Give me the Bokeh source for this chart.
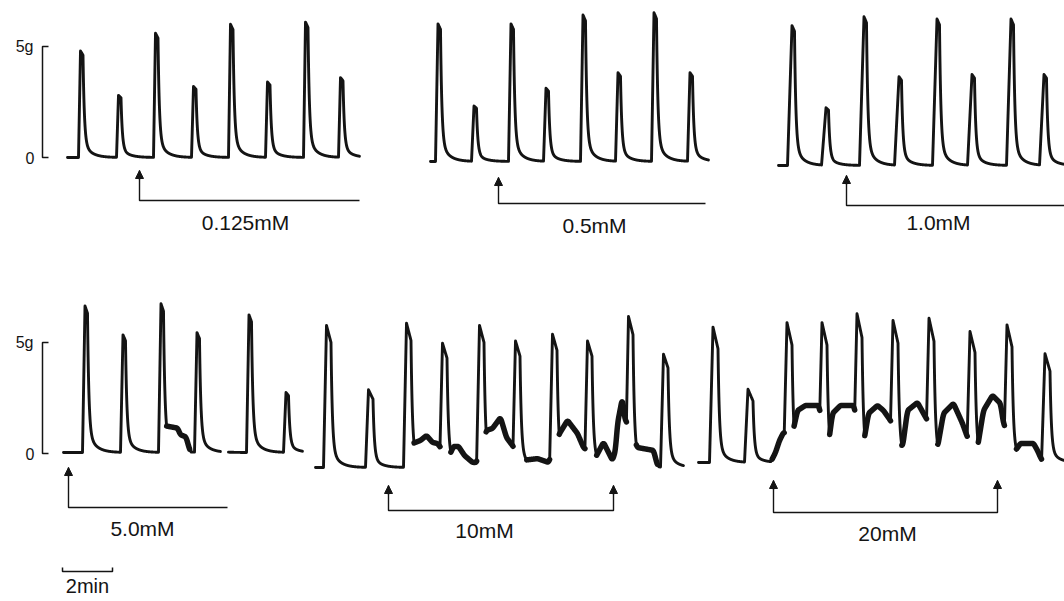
import numpy as np
from bokeh.plotting import figure
from bokeh.models import Range1d, Arrow, NormalHead
from bokeh.core.properties import value
from bokeh.embed import file_html
from bokeh.resources import INLINE

# ------------------------------------------------------------------
# DATA  (time in minutes, tension in grams)
# ------------------------------------------------------------------
# 0.125 mM
a_span = [2.36, 14.04]
a_onsets = [2.80, 4.32, 5.80, 7.32, 8.80, 10.28, 11.80, 13.20]
a_peaks = [4.8, 2.8, 5.6, 3.2, 6.0, 3.4, 6.1, 3.6]

# 0.5 mM
b_span = [16.88, 28.0]
b_onsets = [17.08, 18.52, 20.00, 21.40, 22.88, 24.28, 25.72, 27.16]
b_peaks = [6.2, 2.5, 6.2, 3.3, 6.6, 4.0, 6.7, 4.0]

# 1.0 mM
c_span = [30.8, 42.6]
c_onsets = [31.16, 32.52, 34.04, 35.44, 36.96, 38.36, 39.92, 41.24]
c_peaks = [6.3, 2.6, 6.7, 4.0, 6.6, 4.1, 6.6, 4.1]

# 5.0 mM (two recording segments)
d_span = [2.2, 8.48, 8.8, 11.76]
d_onsets = [2.96, 4.48, 6.00, 7.44, 9.52, 11.00]
d_peaks = [6.6, 5.3, 6.7, 5.4, 6.2, 2.7]
d_tone_t = [6.20, 6.28, 6.76, 6.88, 7.10, 7.24, 7.30]
d_tone_g = [0.0, 1.2, 1.1, 0.8, 0.7, 0.15, 0.0]

# 10 mM
e_span = [12.28, 27.0]
e_onsets = [12.60, 14.28, 15.80, 17.24, 18.72, 20.16, 21.64, 23.04, 24.68, 26.08]
e_peaks = [6.4, 3.5, 6.5, 5.6, 6.4, 5.7, 6.0, 5.7, 6.8, 5.1]
e_tone_t = [16.00, 16.16, 16.48, 16.72, 16.96, 17.16,
            17.60, 17.80, 18.00, 18.24, 18.56, 18.72,
            19.12, 19.36, 19.68, 19.92, 20.16,
            20.56, 21.16, 21.60,
            22.04, 22.36, 22.76, 23.00,
            23.48, 23.80, 24.16, 24.28, 24.36, 24.56, 24.64,
            25.16, 25.80, 25.96, 26.05]
e_tone_g = [0.0, 1.08, 1.22, 1.44, 1.13, 1.08,
            0.45, 0.95, 0.95, 0.54, 0.23, 0.23,
            1.67, 1.76, 2.25, 1.35, 0.99,
            0.32, 0.40, 0.23,
            1.53, 2.12, 1.53, 0.90,
            0.45, 1.13, 0.32, 0.77, 1.98, 3.15, 2.25,
            0.90, 0.77, 0.09, 0.0]

# 20 mM
f_span = [27.6, 42.6]
f_onsets = [28.04, 29.44, 31.00, 32.40, 33.80, 35.24, 36.68, 38.32, 39.80, 41.32]
f_peaks = [6.1, 3.3, 6.3, 6.3, 6.7, 6.4, 6.5, 5.9, 6.2, 4.9]
f_tone_t = [30.48, 30.68, 30.84, 31.00,
            31.36, 31.56, 31.88, 32.40,
            32.80, 32.96, 33.28, 33.80,
            34.20, 34.40, 34.76, 35.00, 35.28,
            35.76, 35.96, 36.36, 36.60, 36.76,
            37.16, 37.40, 37.80, 38.16, 38.36,
            38.76, 39.00, 39.36, 39.68, 39.80,
            40.28, 40.48, 41.00, 41.16, 41.28, 41.40]
f_tone_g = [0.0, 0.45, 0.99, 1.35,
            1.31, 2.34, 2.57, 2.57,
            0.86, 2.21, 2.57, 2.57,
            0.86, 2.21, 2.57, 2.34, 1.89,
            0.68, 2.34, 2.70, 2.21, 1.89,
            0.68, 2.21, 2.66, 1.76, 1.13,
            0.68, 2.34, 3.02, 2.66, 1.76,
            0.54, 0.86, 0.86, 0.54, 0.23, 0.0]

# drug application: start, end (min) and labels
dose_labels = ["0.125mM", "0.5mM", "1.0mM", "5.0mM", "10mM", "20mM"]
dose_start = [5.56, 19.92, 33.84, 2.72, 15.52, 30.92]
dose_end = [14.36, 28.20, 42.60, 9.08, 24.52, 39.88]
dose_end_arrow = [False, False, False, False, True, True]

# ------------------------------------------------------------------
# LAYOUT
# ------------------------------------------------------------------
W, H = 1064, 601
PX_MIN = 25.0      # px per minute
PX_G = 22.2        # px per gram
ZERO_PY = 453.0    # page y of bottom-row zero


def gy(py):        # page-y -> figure units
    return (ZERO_PY - py) / PX_G


def tx(px):        # page-x -> figure units
    return px / PX_MIN


SHIFT = 8 / PX_MIN   # data times above were read with an 8px origin
row_top = gy(157)
panel_base = [gy(157), gy(161), gy(165), gy(452), gy(467), gy(462)]
rise_time = [0.08, 0.10, 0.18, 0.10, 0.12, 0.14]
top_time = [0.10, 0.10, 0.10, 0.10, 0.18, 0.20]
sag = [0.04, 0.04, 0.04, 0.05, 0.12, 0.16]

bar_tip = [gy(170), gy(177), gy(175), gy(467), gy(485), gy(480)]
bar_y = [gy(200), gy(203), gy(205), gy(507), gy(510), gy(512)]
label_xy = [(245, 222), (594, 225), (938, 222), (142, 528), (484, 530), (887, 533)]

INK = "#141414"
FONT = "Liberation Sans"

p = figure(width=W, height=H, output_backend="svg", toolbar_location=None,
           x_range=Range1d(0, W / PX_MIN), y_range=Range1d(gy(H), gy(0)),
           x_axis_type=None, y_axis_type=None, min_border=0,
           background_fill_color="white", border_fill_color="white")
p.grid.visible = False
p.outline_line_color = None


def twitch(t, onset, peak, rise, top, sg):
    y = np.zeros_like(t)
    s = t - onset
    m1 = (s >= 0) & (s < rise)
    y[m1] = peak * s[m1] / rise
    m2 = (s >= rise) & (s < rise + top)
    y[m2] = peak * (1 - sg * (s[m2] - rise) / top)
    m3 = s >= rise + top
    u = s[m3] - rise - top
    p2 = peak * (1 - sg)
    y[m3] = p2 * (0.85 * np.exp(-u / 0.055) + 0.15 * np.exp(-u / 0.3))
    return y


DT = 0.004


def trace(t0, t1, onsets, peaks, k, tone_t=None, tone_g=None):
    t = np.arange(t0, t1, DT)
    tone = np.zeros_like(t)
    if tone_t is not None:
        tone = np.interp(t, tone_t, tone_g, left=0.0, right=0.0)
        n = int(0.10 / DT)
        ker = np.ones(n) / n
        tone = np.convolve(np.pad(tone, n, mode="edge"), ker, mode="same")[n:-n]
    tw = np.zeros_like(t)
    for o, pk in zip(onsets, peaks):
        tw = np.maximum(tw, twitch(t, o, pk, rise_time[k], top_time[k], sag[k]))
    y = np.maximum(tone, tw)
    thick = np.where((tone > tw) & (tone > 0.15), y, np.nan)
    return t + SHIFT, y + panel_base[k], thick + panel_base[k]


segments = [
    (a_span[0], a_span[1], a_onsets, a_peaks, 0, None, None),
    (b_span[0], b_span[1], b_onsets, b_peaks, 1, None, None),
    (c_span[0], c_span[1], c_onsets, c_peaks, 2, None, None),
    (d_span[0], d_span[1], d_onsets, d_peaks, 3, d_tone_t, d_tone_g),
    (d_span[2], d_span[3], d_onsets, d_peaks, 3, d_tone_t, d_tone_g),
    (e_span[0], e_span[1], e_onsets, e_peaks, 4, e_tone_t, e_tone_g),
    (f_span[0], f_span[1], f_onsets, f_peaks, 5, f_tone_t, f_tone_g),
]
for seg in segments:
    t, y, yt = trace(*seg)
    p.line(t, y, line_color=INK, line_width=2.9, line_join="round", line_cap="round")
    if not np.all(np.isnan(yt)):
        p.line(t, yt, line_color=INK, line_width=5.5, line_join="round", line_cap="round")

# tension scale brackets
for base in [row_top, 0.0]:
    x0, x1 = tx(42), tx(48)
    p.line([x1, x0, x0, x1], [base + 5, base + 5, base, base], line_color=INK, line_width=1.5)
    p.text([tx(33), tx(34)], [base + 5, base], text=["5g", "0"], text_align="right",
           text_baseline="middle", text_font=value(FONT), text_font_size="16px",
           text_color=INK)

# drug application bars
for i in range(6):
    xs, xe = dose_start[i], dose_end[i]
    if dose_end_arrow[i]:
        p.line([xs, xs, xe, xe], [bar_tip[i], bar_y[i], bar_y[i], bar_tip[i]],
               line_color=INK, line_width=1.4)
    else:
        p.line([xs, xs, xe], [bar_tip[i], bar_y[i], bar_y[i]], line_color=INK, line_width=1.4)
    ends = [xs, xe] if dose_end_arrow[i] else [xs]
    for xx in ends:
        p.add_layout(Arrow(end=NormalHead(size=8, fill_color=INK, line_color=INK, line_width=1),
                           x_start=xx, y_start=bar_tip[i] - 0.4, x_end=xx, y_end=bar_tip[i],
                           line_color=INK, line_width=1.4))
    lx, ly = label_xy[i]
    p.text([tx(lx)], [gy(ly)], text=[dose_labels[i]], text_align="center",
           text_baseline="middle", text_font=value(FONT), text_font_size="21px",
           text_color=INK)

# time scale bar
sx0, sx1 = tx(62), tx(112)
p.line([sx0, sx0, sx1, sx1], [gy(567), gy(571), gy(571), gy(567)], line_color=INK, line_width=1.5)
p.text([tx(87)], [gy(585)], text=["2min"], text_align="center", text_baseline="middle",
       text_font=value(FONT), text_font_size="20px", text_color=INK)

open("out.html", "w").write(file_html(p, INLINE))
